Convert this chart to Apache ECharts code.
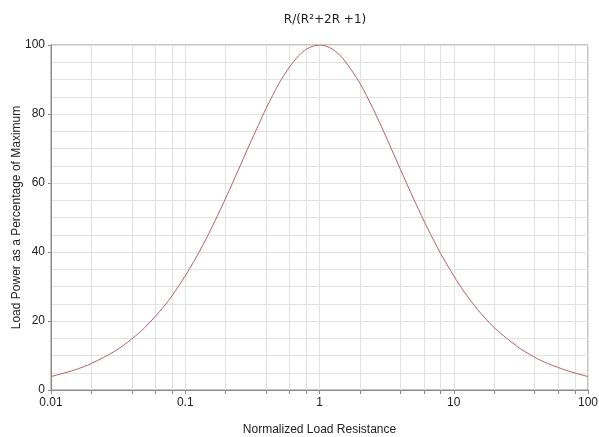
<!DOCTYPE html>
<html>
<head>
    <meta charset="UTF-8">
    <title>Load Power vs Load Resistance</title>
    <script src="https://cdn.jsdelivr.net/npm/echarts@6.0.0/dist/echarts.min.js"></script>
    <style>
        body { margin: 0; background: #fff; }
        #chart { width: 599px; height: 437px; }
    </style>
</head>
<body>
    <div id="chart"></div>
    <script>
        // values
        const resistance = [0.01, 0.015, 0.02, 0.03, 0.04, 0.05, 0.06, 0.07, 0.08, 0.1, 0.12, 0.15, 0.2, 0.25, 0.3, 0.35, 0.4, 0.5, 0.6, 0.7, 0.8, 0.9, 1,
                            1.11, 1.25, 1.5, 2, 2.5, 3, 4, 5, 6, 7, 8, 10, 12, 15, 20, 30, 40, 50, 70, 100];
        const loadPercent = [3.9, 5.8, 7.7, 11.3, 14.8, 18.1, 21.4, 24.4, 27.4, 33.1, 38.3, 45.4, 55.6, 64.0, 71.0, 76.7, 81.6, 88.9, 93.7, 96.9, 98.8, 99.7, 100,
                             99.7, 98.8, 96.0, 88.9, 81.6, 75.0, 64.0, 55.6, 49.0, 43.8, 39.5, 33.1, 28.4, 23.4, 18.1, 12.5, 9.5, 7.7, 5.6, 3.9];
        const xTickValues = [0.01, 0.02, 0.04, 0.06, 0.08, 0.1, 0.2, 0.4, 0.6, 0.8, 1, 2, 4, 6, 8, 10, 20, 40, 60, 80, 100];
        const xLabelValues = [0.01, 0.1, 1, 10, 100];

        const chart = echarts.init(document.getElementById('chart'));
        const font = '"Liberation Sans", Arial, sans-serif';

        chart.setOption({
            animation: false,
            title: {
                text: 'R/(R\u00b2+2R +1)',
                left: 320,
                textAlign: 'center',
                top: 9,
                textStyle: { fontFamily: 'Tahoma, "DejaVu Sans", sans-serif', fontSize: 12, fontWeight: 'normal', color: '#222' }
            },
            grid: {
                left: 51, right: 11, top: 45, bottom: 47,
                outerBoundsMode: 'none',
                containLabel: false,
                show: true, borderColor: '#8a8a8a', borderWidth: 1
            },
            xAxis: {
                type: 'log',
                logBase: 10,
                min: 0.01,
                max: 100,
                name: 'Normalized Load Resistance',
                nameLocation: 'middle',
                nameGap: 34,
                nameMoveOverlap: false,
                nameTextStyle: { fontFamily: font, fontSize: 12, color: '#222' },
                axisLine: { lineStyle: { color: '#8a8a8a' } },
                axisTick: { show: true, length: 4, inside: false, customValues: xTickValues, lineStyle: { color: '#8a8a8a' } },
                axisLabel: { customValues: xLabelValues, margin: 7, fontFamily: font, fontSize: 12, color: '#222',
                    formatter: v => String(v) },
                splitLine: { show: true, lineStyle: { color: '#e2e2e2' } }
            },
            yAxis: {
                type: 'value',
                min: 0,
                max: 100,
                interval: 20,
                name: 'Load Power as a Percentage of Maximum',
                nameLocation: 'middle',
                nameGap: 28,
                nameMoveOverlap: false,
                nameTextStyle: { fontFamily: font, fontSize: 12, color: '#222' },
                axisLine: { show: true, lineStyle: { color: '#8a8a8a' } },
                axisTick: { show: true, length: 3, lineStyle: { color: '#8a8a8a' } },
                axisLabel: { margin: 6, fontFamily: font, fontSize: 12, color: '#222' },
                splitLine: { show: true, lineStyle: { color: '#e2e2e2' } },
                minorTick: { show: false, splitNumber: 4 },
                minorSplitLine: { show: true, lineStyle: { color: '#e2e2e2' } }
            },
            series: [{
                type: 'line',
                data: resistance.map((r, i) => [r, loadPercent[i]]),
                smooth: 0.3,
                showSymbol: false,
                lineStyle: { color: '#b5606c', width: 1 }
            }]
        });
    </script>
</body>
</html>
